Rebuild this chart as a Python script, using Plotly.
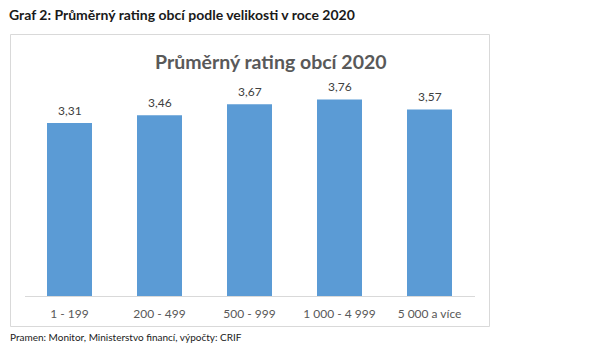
import plotly.graph_objects as go

categories = ["1 - 199", "200 - 499", "500 - 999", "1 000 - 4 999", "5 000 a více"]
values = [3.31, 3.46, 3.67, 3.76, 3.57]

W, H = 610, 352
FONT = "Lato"

def px(x):
    return x / W

def py(y):
    return 1 - y / H

fig = go.Figure()
fig.add_trace(go.Bar(
    x=categories, y=values,
    marker=dict(color="#5b9bd5", line=dict(width=0)),
    width=0.5,
    hoverinfo="skip",
))

label_annotations = [
    dict(x=c, y=v, xref="x", yref="y", text=f"{v:.2f}".replace(".", ","),
         showarrow=False, yanchor="middle", xanchor="center", yshift=13,
         font=dict(family=FONT, size=12, color="#404040"))
    for c, v in zip(categories, values)
]

fig.update_layout(
    width=W, height=H,
    margin=dict(l=0, r=0, t=0, b=0),
    paper_bgcolor="white", plot_bgcolor="white",
    separators=", ",
    showlegend=False,
    xaxis=dict(
        domain=[px(24.5), px(474.5)],
        showline=True, linecolor="#d9d9d9", linewidth=1,
        showgrid=False, ticks="",
        ticklabelstandoff=7,
        tickfont=dict(family=FONT, size=12, color="#595959"),
        fixedrange=True,
    ),
    yaxis=dict(
        domain=[py(296), py(87)],
        range=[0, 4],
        showgrid=False, showticklabels=False, zeroline=False,
        fixedrange=True,
    ),
    shapes=[dict(type="rect", xref="paper", yref="paper",
                 x0=px(10.5), x1=px(489.5), y0=py(326.5), y1=py(34.5),
                 line=dict(color="#d9d9d9", width=1))],
    annotations=label_annotations + [
        dict(text="<b>Graf 2: Průměrný rating obcí podle velikosti v roce 2020</b>",
             xref="paper", yref="paper", x=px(7), y=py(15),
             xanchor="left", yanchor="middle", showarrow=False,
             font=dict(family=FONT, size=14, color="#1a1a1a")),
        dict(text="<b>Průměrný rating obcí 2020</b>",
             xref="paper", yref="paper", x=px(271), y=py(61),
             xanchor="center", yanchor="middle", showarrow=False,
             font=dict(family=FONT, size=19.5, color="#595959")),
        dict(text="Pramen: Monitor, Ministerstvo financí, výpočty: CRIF",
             xref="paper", yref="paper", x=px(8), y=py(337),
             xanchor="left", yanchor="middle", showarrow=False,
             font=dict(family=FONT, size=10, color="#1a1a1a")),
    ],
)

fig.write_html("out.html")
